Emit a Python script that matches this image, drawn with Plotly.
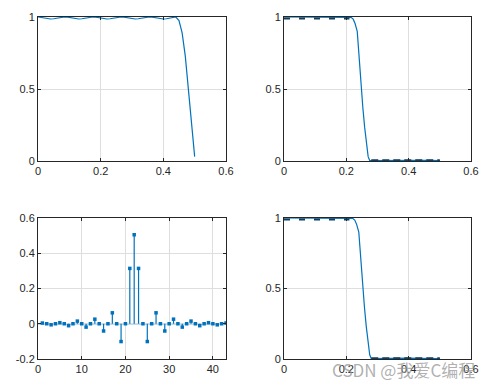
import plotly.graph_objects as go

# ---------------- data ----------------
# subplot 1: response with pass-band ripple
f1 = [0, 0.01, 0.02, 0.03, 0.04, 0.05, 0.06, 0.07, 0.085, 0.1, 0.11, 0.12, 0.13, 0.14, 0.15, 0.16, 0.175,
      0.19, 0.2, 0.21, 0.22, 0.23, 0.24, 0.25, 0.265, 0.28, 0.29, 0.30, 0.31, 0.32, 0.33, 0.34, 0.355,
      0.37, 0.38, 0.39, 0.40, 0.41, 0.42, 0.43, 0.44, 0.45, 0.46, 0.47, 0.48, 0.49, 0.5]
a1 = [1.0, 0.997, 0.992, 0.988, 0.986, 0.988, 0.992, 0.997, 1.0, 0.997, 0.992, 0.988, 0.986, 0.988, 0.992, 0.997, 1.0,
      0.997, 0.992, 0.988, 0.986, 0.988, 0.992, 0.997, 1.0, 0.997, 0.992, 0.988, 0.986, 0.988, 0.992, 0.997, 1.0,
      0.997, 0.992, 0.988, 0.986, 0.988, 0.993, 0.998, 1.0, 0.975, 0.89, 0.73, 0.49, 0.25, 0.03]

# subplot 2: low-pass response
f2 = [0, 0.05, 0.1, 0.15, 0.2, 0.215, 0.222, 0.228, 0.235, 0.241, 0.247, 0.253, 0.259, 0.265, 0.27, 0.275,
      0.3, 0.33, 0.36, 0.4, 0.43, 0.46, 0.5]
a2 = [1.0, 1.0, 1.0, 1.0, 1.0, 0.998, 0.985, 0.955, 0.9, 0.71, 0.52, 0.37, 0.23, 0.1, 0.03, 0.003,
      0.004, 0.003, 0.005, 0.006, 0.005, 0.004, 0.002]

# subplot 3: impulse response h(n)
n = list(range(1, 44))
h = [0.004, 0, -0.006, 0, 0.006, 0, -0.011, 0, 0.015, 0, -0.019, 0, 0.026, 0, -0.041, 0, 0.062, 0, -0.101, 0,
     0.314, 0.505, 0.314, 0, -0.101, 0, 0.062, 0, -0.041, 0, 0.026, 0, -0.019, 0, 0.015, 0, -0.011, 0, 0.006, 0,
     -0.006, 0, 0.004]

# subplot 4: low-pass response
f4 = [0, 0.05, 0.1, 0.15, 0.2, 0.22, 0.227, 0.233, 0.24, 0.246, 0.252, 0.258, 0.264, 0.27, 0.275, 0.28,
      0.3, 0.33, 0.36, 0.4, 0.43, 0.46, 0.5]
a4 = [1.0, 1.0, 1.0, 1.0, 1.0, 0.998, 0.985, 0.955, 0.9, 0.71, 0.52, 0.37, 0.23, 0.1, 0.03, 0.003,
      0.004, 0.003, 0.005, 0.006, 0.005, 0.004, 0.002]

# dashed reference levels (pass band / stop band)
pass_f = [0, 0.21]
pass_a = [0.99, 0.99]
stop_f = [0.28, 0.5]
stop_a = [0.006, 0.006]

ticks_f = [0, 0.2, 0.4, 0.6]
ticks_a = [0, 0.5, 1]
ticks_n = [0, 10, 20, 30, 40]
ticks_h = [-0.2, 0, 0.2, 0.4, 0.6]

# ---------------- style ----------------
BLUE = "#0072BD"
DARK = "#123f60"
W, H = 499, 389

def px_dom_x(a, b):
    return [a / W, b / W]

def px_dom_y(top, bot):
    return [1 - bot / H, 1 - top / H]

fig = go.Figure()

fig.add_trace(go.Scatter(x=f1, y=a1, mode="lines", line=dict(color=BLUE, width=1.2), xaxis="x", yaxis="y"))

fig.add_trace(go.Scatter(x=f2, y=a2, mode="lines", line=dict(color=BLUE, width=1.2), xaxis="x2", yaxis="y2"))
fig.add_trace(go.Scatter(x=pass_f, y=pass_a, mode="lines", line=dict(color=DARK, width=2, dash="6px,9px"),
                         xaxis="x2", yaxis="y2"))
fig.add_trace(go.Scatter(x=stop_f, y=stop_a, mode="lines", line=dict(color=DARK, width=1.6, dash="7px,4px"),
                         xaxis="x2", yaxis="y2"))

# stems
sx, sy = [], []
for xi, yi in zip(n, h):
    sx += [xi, xi, None]
    sy += [0, yi, None]
fig.add_trace(go.Scatter(x=sx, y=sy, mode="lines", line=dict(color=BLUE, width=1.2), xaxis="x3", yaxis="y3"))
fig.add_trace(go.Scatter(x=n, y=h, mode="markers", marker=dict(color=BLUE, size=3.5, symbol="square"),
                         xaxis="x3", yaxis="y3"))

fig.add_trace(go.Scatter(x=f4, y=a4, mode="lines", line=dict(color=BLUE, width=1.2), xaxis="x4", yaxis="y4"))
fig.add_trace(go.Scatter(x=pass_f, y=pass_a, mode="lines", line=dict(color=DARK, width=2, dash="6px,9px"),
                         xaxis="x4", yaxis="y4"))
fig.add_trace(go.Scatter(x=stop_f, y=stop_a, mode="lines", line=dict(color=DARK, width=1.6, dash="7px,4px"),
                         xaxis="x4", yaxis="y4"))

axis_common = dict(showgrid=True, gridcolor="#dedede", gridwidth=1, zeroline=False,
                   showline=True, linecolor="#262626", linewidth=1, mirror="allticks",
                   ticks="inside", ticklen=3, tickcolor="#262626",
                   tickfont=dict(family="Liberation Sans, Arial", size=11, color="#262626"),
                   automargin=False, fixedrange=True)

L1, R1, L2, R2 = 38, 226, 284, 471
T1, B1, T2, B2 = 17, 161, 218, 359

fig.update_layout(
    width=W, height=H, margin=dict(l=0, r=0, t=0, b=0),
    paper_bgcolor="white", plot_bgcolor="white", showlegend=False,
    xaxis=dict(domain=px_dom_x(L1, R1), range=[0, 0.6], tickvals=ticks_f, ticktext=["0", "0.2", "0.4", "0.6"],
               anchor="y", **axis_common),
    yaxis=dict(domain=px_dom_y(T1, B1), range=[0, 1], tickvals=ticks_a, ticktext=["0", "0.5", "1"],
               anchor="x", **axis_common),
    xaxis2=dict(domain=px_dom_x(L2, R2), range=[0, 0.6], tickvals=ticks_f, ticktext=["0", "0.2", "0.4", "0.6"],
                anchor="y2", **axis_common),
    yaxis2=dict(domain=px_dom_y(T1, B1), range=[0, 1], tickvals=ticks_a, ticktext=["0", "0.5", "1"],
                anchor="x2", **axis_common),
    xaxis3=dict(domain=px_dom_x(L1, R1), range=[0, 43], tickvals=ticks_n, anchor="y3", **axis_common),
    yaxis3=dict(domain=px_dom_y(T2, B2), range=[-0.2, 0.6], tickvals=ticks_h,
                ticktext=["-0.2", "0", "0.2", "0.4", "0.6"], anchor="x3", **axis_common),
    xaxis4=dict(domain=px_dom_x(L2, R2), range=[0, 0.6], tickvals=ticks_f, ticktext=["0", "0.2", "0.4", "0.6"],
                anchor="y4", **axis_common),
    yaxis4=dict(domain=px_dom_y(T2, B2), range=[0, 1], tickvals=ticks_a, ticktext=["0", "0.5", "1"],
                anchor="x4", **axis_common),
)

# stem baseline
fig.add_shape(type="line", xref="x3 domain", yref="y3", x0=0, x1=1, y0=0, y1=0,
              line=dict(color=BLUE, width=1.2), layer="below")

# watermark
fig.add_annotation(text="CSDN @我爱C编程", xref="paper", yref="paper", x=403 / W, y=1 - 369 / H,
                   showarrow=False, xanchor="center", yanchor="middle",
                   font=dict(family="Noto Sans CJK SC, Liberation Sans", size=17, color="rgba(150,150,150,0.75)"))

fig.write_html("out.html")
